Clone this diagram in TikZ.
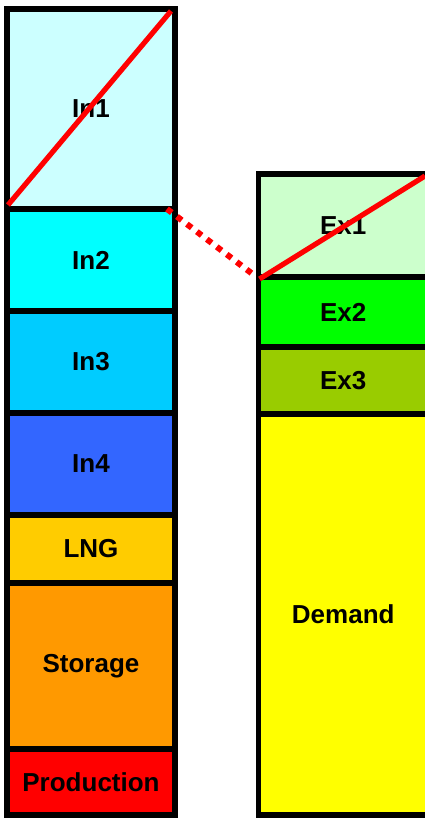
\documentclass[tikz,border=0pt]{standalone}
\usepackage{fontspec}
\setmainfont{Liberation Sans}
\begin{document}
\begin{tikzpicture}[x=1pt,y=-1pt,
  box/.style={draw=black, line width=5.2pt, inner sep=0pt, outer sep=0pt,
    font=\fontsize{26}{26}\selectfont\bfseries},
  lcol/.style={box, minimum width=168pt},
  rcol/.style={box, minimum width=169.5pt},
  redline/.style={draw={rgb,255:red,255;green,0;blue,0}, line width=5.2pt}]
\useasboundingbox (0,0) rectangle (425,818);
\clip (0,0) rectangle (425,818);
\fill[white] (0,0) rectangle (425,818);
% left column
\node[lcol, fill={rgb,255:red,204;green,255;blue,255}, minimum height=200pt] (in1) at (91,109) {In1};
\node[lcol, fill={rgb,255:red,0;green,255;blue,255}, minimum height=102pt] (in2) at (91,260) {In2};
\node[lcol, fill={rgb,255:red,0;green,204;blue,255}, minimum height=102pt] (in3) at (91,362) {In3};
\node[lcol, fill={rgb,255:red,51;green,102;blue,255}, minimum height=102pt] (in4) at (91,464) {In4};
\node[lcol, fill={rgb,255:red,255;green,204;blue,0}, minimum height=68pt] (lng) at (91,549) {LNG};
\node[lcol, fill={rgb,255:red,255;green,153;blue,0}, minimum height=166pt] (sto) at (91,666) {Storage};
\node[lcol, fill={rgb,255:red,255;green,0;blue,0}, minimum height=66pt] (prod) at (91,782) {Production};
% right column
\node[rcol, fill={rgb,255:red,204;green,255;blue,204}, minimum height=103pt] (ex1) at (343.25,225.5) {Ex1};
\node[rcol, fill={rgb,255:red,0;green,255;blue,0}, minimum height=70pt] (ex2) at (343.25,312) {Ex2};
\node[rcol, fill={rgb,255:red,153;green,204;blue,0}, minimum height=67pt] (ex3) at (343.25,380.5) {Ex3};
\node[rcol, fill={rgb,255:red,255;green,255;blue,0}, minimum height=401pt] (dem) at (343.25,614.5) {Demand};
% red lines
\draw[redline] ([shift={(1,-4)}]in1.south west) -- ([shift={(-4,2)}]in1.north east);
\coordinate (exend) at (425,176);
\draw[redline] ([shift={(1,2)}]ex1.south west) -- (exend);
\draw[redline, line width=6pt, dash pattern=on 6pt off 6.5pt] ([shift={(-8,0)}]in2.north east) -- ([shift={(-2,0)}]ex1.south west);
\end{tikzpicture}
\end{document}
